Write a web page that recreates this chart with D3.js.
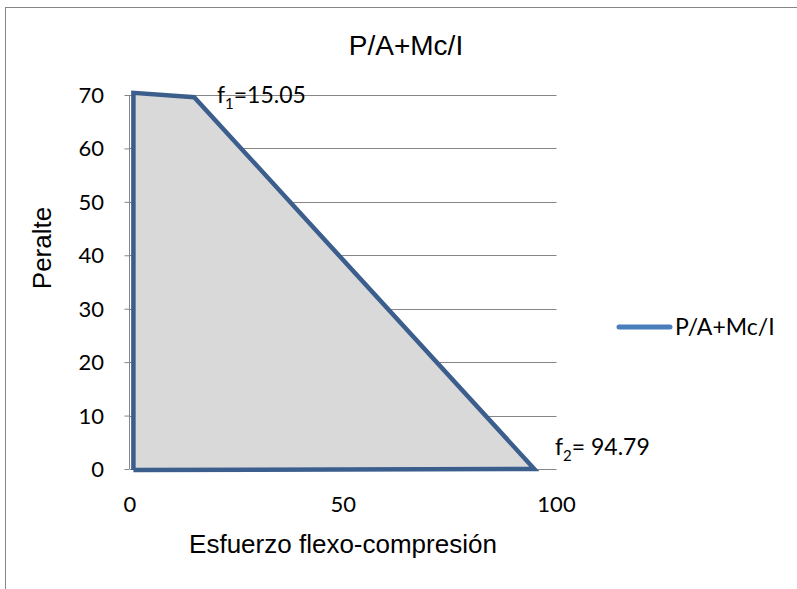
<!DOCTYPE html>
<html>
<head>
<meta charset="utf-8">
<script src="https://cdn.jsdelivr.net/npm/d3@7"></script>
<style>
  html, body { margin: 0; padding: 0; background: #fff; }
  svg { display: block; }
</style>
</head>
<body>
<svg id="chart" width="797" height="589"></svg>
<script>
// Stress profile across the section depth: P/A + Mc/I
const seriesName = "P/A+Mc/I";
const stressX = [0.8, 0.8, 15.05, 94.79, 0.8];     // Esfuerzo flexo-compresión
const depthY  = [-0.2, 70.4, 69.6, 0, -0.2];       // Peralte
const xTicks = [0, 50, 100];
const yTicks = [0, 10, 20, 30, 40, 50, 60, 70];
const notes = [
  { base: "f", sub: "1", text: "=15.05", x: 15.05, y: 69.6 },
  { base: "f", sub: "2", text: "= 94.79", x: 94.79, y: 0 }
];

const svg = d3.select("#chart");
const sansSerif = "'Liberation Sans', Arial, sans-serif";
const bodyFont = "Lato, 'Open Sans', sans-serif";

// chart frame
svg.append("rect")
  .attr("x", 5.5).attr("y", 7.5)
  .attr("width", 820).attr("height", 620)
  .attr("fill", "#fff").attr("stroke", "#868686").attr("stroke-width", 1);

const x = d3.scaleLinear().domain([0, 100]).range([130, 556.5]);
const y = d3.scaleLinear().domain([0, 70]).range([469, 95]);

// horizontal gridlines
svg.append("g")
  .selectAll("line").data(yTicks).join("line")
  .attr("x1", x(0)).attr("x2", x(100))
  .attr("y1", d => Math.round(y(d)) + 0.5).attr("y2", d => Math.round(y(d)) + 0.5)
  .attr("stroke", "#868686").attr("stroke-width", 1);

// vertical axis with outward ticks
const yAxis = d3.axisLeft(y).tickValues(yTicks).tickSize(5).tickFormat("");
const yAxisG = svg.append("g").attr("transform", `translate(${x(0) - 0.5},0)`).call(yAxis);
yAxisG.selectAll("path, line").attr("stroke", "#868686");
yAxisG.select(".domain").attr("d", `M-5,${y(70)}H0V${y(0)}H-5`).attr("d", `M0,${y(70)}V${y(0)}`);

// y tick labels
svg.append("g")
  .selectAll("text").data(yTicks).join("text")
  .attr("x", 104).attr("y", d => y(d) + 8)
  .attr("text-anchor", "end")
  .attr("font-family", bodyFont).attr("font-size", 22).attr("fill", "#000")
  .text(d => d);

// x tick labels
svg.append("g")
  .selectAll("text").data(xTicks).join("text")
  .attr("x", d => x(d)).attr("y", 512)
  .attr("text-anchor", "middle")
  .attr("font-family", bodyFont).attr("font-size", 22).attr("fill", "#000")
  .text(d => d);

// stress polygon
const pts = stressX.map((v, i) => [x(v), y(depthY[i])]);
const line = d3.line();
svg.append("path")
  .attr("d", line(pts) + "Z")
  .attr("fill", "#d9d9d9").attr("stroke", "none");
svg.append("path")
  .attr("d", line(pts))
  .attr("fill", "none")
  .attr("stroke", "#3b5e8d").attr("stroke-width", 4.5)
  .attr("stroke-linejoin", "miter");

// value annotations
notes.forEach((n, i) => {
  const t = svg.append("text")
    .attr("x", i === 0 ? 217 : 555)
    .attr("y", i === 0 ? 103 : 455)
    .attr("font-family", bodyFont).attr("font-size", 23).attr("fill", "#000");
  t.append("tspan").text(n.base);
  t.append("tspan").attr("dy", 6).attr("font-size", 15).text(n.sub);
  t.append("tspan").attr("dy", -6).text(n.text);
});

// title
svg.append("text")
  .attr("x", 406).attr("y", 55)
  .attr("text-anchor", "middle")
  .attr("font-family", sansSerif).attr("font-size", 28).attr("fill", "#000")
  .text(seriesName);

// axis titles
svg.append("text")
  .attr("x", 343).attr("y", 553)
  .attr("text-anchor", "middle")
  .attr("font-family", sansSerif).attr("font-size", 26).attr("fill", "#000")
  .text("Esfuerzo flexo-compresión");

svg.append("text")
  .attr("transform", "translate(51,248) rotate(-90)")
  .attr("text-anchor", "middle")
  .attr("font-family", sansSerif).attr("font-size", 26).attr("fill", "#000")
  .text("Peralte");

// legend
const lg = svg.append("g");
lg.append("line")
  .attr("x1", 619).attr("x2", 670).attr("y1", 327).attr("y2", 327)
  .attr("stroke", "#4a7ebb").attr("stroke-width", 5).attr("stroke-linecap", "round");
lg.append("text")
  .attr("x", 675).attr("y", 335)
  .attr("font-family", bodyFont).attr("font-size", 23).attr("fill", "#000")
  .text(seriesName);
</script>
</body>
</html>
